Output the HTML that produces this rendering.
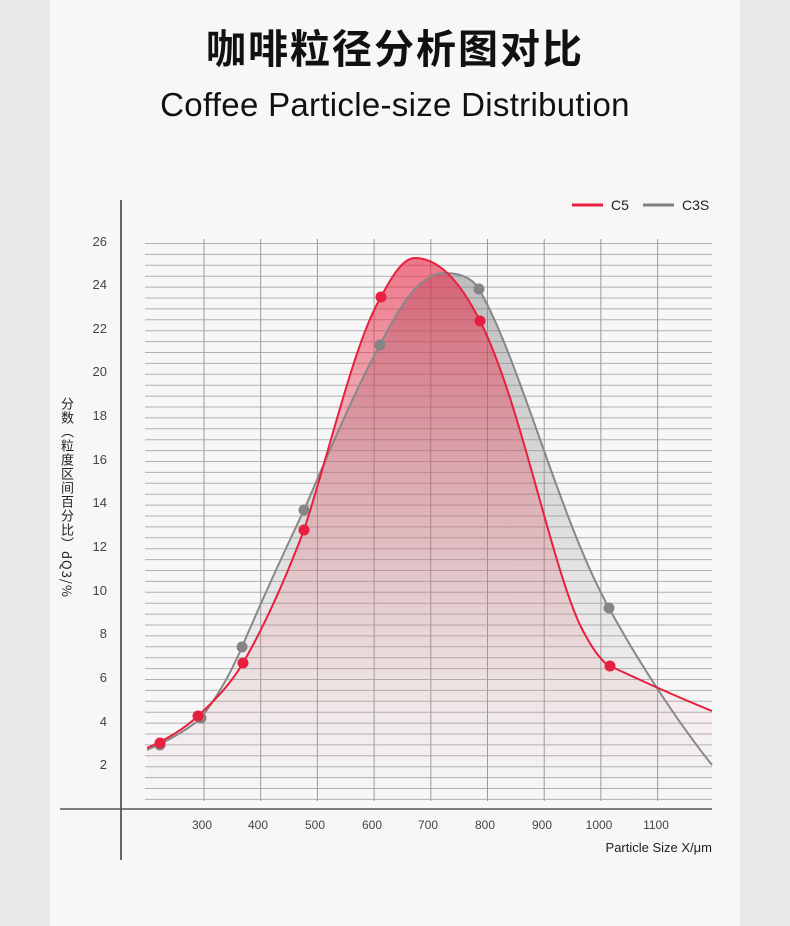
<!DOCTYPE html>
<html><head><meta charset="utf-8"><style>
body{margin:0;width:790px;height:926px;background:#e9e9e9;font-family:"Liberation Sans","Noto Sans CJK SC",sans-serif;overflow:hidden}
.panel{position:absolute;left:50px;top:0;width:690px;height:926px;background:#f7f7f7}
.t1{position:absolute;left:0;width:790px;top:17px;text-align:center;font-size:40px;font-weight:bold;color:#111;font-family:"Noto Sans CJK SC",sans-serif;letter-spacing:2px}
.t2{position:absolute;left:0;width:790px;top:86px;text-align:center;font-size:33px;color:#111;letter-spacing:0.3px}
.yt{position:absolute;left:58px;top:397px;writing-mode:vertical-rl;font-size:13px;color:#222;letter-spacing:1px;font-family:"Noto Sans CJK SC",sans-serif}
</style></head><body>
<div class="panel"></div>
<div class="t1">咖啡粒径分析图对比</div>
<div class="t2">Coffee Particle-size Distribution</div>
<div class="yt">分数（粒度区间百分比）dQ3/%</div>
<svg width="790" height="926" style="position:absolute;left:0;top:0">
<defs>
<linearGradient id="rg" x1="0" y1="258" x2="0" y2="800" gradientUnits="userSpaceOnUse">
<stop offset="0" stop-color="#e8203f" stop-opacity="0.6"/><stop offset="0.55" stop-color="#e06070" stop-opacity="0.25"/><stop offset="1" stop-color="#e8a0a0" stop-opacity="0"/></linearGradient>
<linearGradient id="gg" x1="0" y1="273" x2="0" y2="800" gradientUnits="userSpaceOnUse">
<stop offset="0" stop-color="#777" stop-opacity="0.45"/><stop offset="0.6" stop-color="#999" stop-opacity="0.2"/><stop offset="1" stop-color="#bbb" stop-opacity="0"/></linearGradient>
</defs>
<g stroke="#b0b0b0" stroke-width="1" id="h"></g>
<g stroke="#9a9a9a" stroke-width="1" id="v"></g>
<path d="M147,750 C170,740 190,728 201,718 C215,700 230,675 242,647 C262,600 285,550 304,510 C330,450 355,390 380,345 C400,305 420,273 445,273 C465,273 475,282 479,289 C520,360 560,520 609,608 C640,665 680,725 712,765 L712,809 L147,809Z" fill="url(#gg)"/>
<path d="M147,748 C170,738 185,728 198,716 C215,700 230,685 243,663 C265,625 285,580 304,530 C330,450 355,340 381,297 C395,270 405,258 415,258 C440,258 462,285 480,321 C520,400 550,560 580,625 C595,655 605,664 610,666 C640,680 680,698 712,711 L712,809 L147,809Z" fill="url(#rg)"/>
<path d="M147,750 C170,740 190,728 201,718 C215,700 230,675 242,647 C262,600 285,550 304,510 C330,450 355,390 380,345 C400,305 420,273 445,273 C465,273 475,282 479,289 C520,360 560,520 609,608 C640,665 680,725 712,765" fill="none" stroke="#888" stroke-width="2"/>
<path d="M147,748 C170,738 185,728 198,716 C215,700 230,685 243,663 C265,625 285,580 304,530 C330,450 355,340 381,297 C395,270 405,258 415,258 C440,258 462,285 480,321 C520,400 550,560 580,625 C595,655 605,664 610,666 C640,680 680,698 712,711" fill="none" stroke="#e8203f" stroke-width="2"/>
<g fill="#858585"><circle cx="160" cy="745" r="5.5"/><circle cx="201" cy="718" r="5.5"/><circle cx="242" cy="647" r="5.5"/><circle cx="304" cy="510" r="5.5"/><circle cx="380" cy="345" r="5.5"/><circle cx="479" cy="289" r="5.5"/><circle cx="609" cy="608" r="5.5"/></g>
<g fill="#e8203f"><circle cx="160" cy="743" r="5.5"/><circle cx="198" cy="716" r="5.5"/><circle cx="243" cy="663" r="5.5"/><circle cx="304" cy="530" r="5.5"/><circle cx="381" cy="297" r="5.5"/><circle cx="480" cy="321" r="5.5"/><circle cx="610" cy="666" r="5.5"/></g>
<line x1="121" y1="200" x2="121" y2="860" stroke="#666" stroke-width="2"/>
<line x1="60" y1="809" x2="712" y2="809" stroke="#555" stroke-width="1.5"/>
<g font-size="13" fill="#444" text-anchor="end" font-family="Liberation Sans">
<text x="107" y="246">26</text><text x="107" y="289">24</text><text x="107" y="333">22</text><text x="107" y="376">20</text><text x="107" y="420">18</text><text x="107" y="464">16</text><text x="107" y="507">14</text><text x="107" y="551">12</text><text x="107" y="595">10</text><text x="107" y="638">8</text><text x="107" y="682">6</text><text x="107" y="726">4</text><text x="107" y="769">2</text>
</g>
<g font-size="12" fill="#444" text-anchor="middle" font-family="Liberation Sans">
<text x="202" y="829">300</text><text x="258" y="829">400</text><text x="315" y="829">500</text><text x="372" y="829">600</text><text x="428" y="829">700</text><text x="485" y="829">800</text><text x="542" y="829">900</text><text x="599" y="829">1000</text><text x="656" y="829">1100</text>
</g>
<text x="712" y="852" font-size="13" fill="#222" text-anchor="end">Particle Size X/μm</text>
<line x1="572" y1="205" x2="603" y2="205" stroke="#e8203f" stroke-width="3"/>
<text x="611" y="210" font-size="14" fill="#222">C5</text>
<line x1="643" y1="205" x2="674" y2="205" stroke="#808080" stroke-width="3"/>
<text x="682" y="210" font-size="14" fill="#222">C3S</text>
</svg>
<script>
var h=document.getElementById('h'),v=document.getElementById('v'),s='';
for(var i=0;i<52;i++){var y=243.5+i*10.9;s+='<line x1="145" x2="712" y1="'+y+'" y2="'+y+'"/>';}
h.innerHTML=s;s='';
for(var j=0;j<9;j++){var x=204+j*56.7;s+='<line y1="239" y2="801" x1="'+x+'" x2="'+x+'"/>';}
v.innerHTML=s;
</script>
</body></html>
